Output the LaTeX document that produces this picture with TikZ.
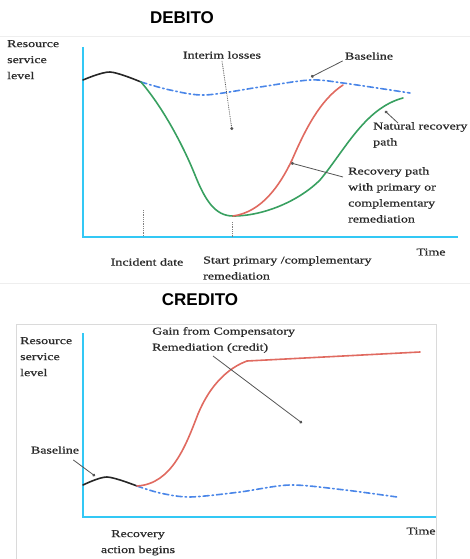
\documentclass[tikz,border=0pt]{standalone}
\usepackage{fontspec}
\setmainfont{Liberation Serif}
\newfontfamily\lblfont[FakeStretch=1.33,FakeBold=0.8]{Liberation Serif}
\newfontfamily\ttlfont{Liberation Sans}
\usetikzlibrary{arrows.meta}
\definecolor{axiscyan}{HTML}{33C8F5}
\definecolor{baseblue}{HTML}{4A86E8}
\definecolor{natgreen}{HTML}{38A060}
\definecolor{remred}{HTML}{E06A60}
\definecolor{txtgray}{HTML}{2A2A2A}
\definecolor{leadgray}{HTML}{555555}
\definecolor{framegray}{HTML}{DADADA}
\definecolor{sepgray}{HTML}{EEEEEE}

\begin{document}
\begin{tikzpicture}[x=1pt,y=-1pt,
  lbl/.style={font=\fontsize{10.5}{16}\selectfont\lblfont, text=txtgray, inner sep=0pt},
  title/.style={font=\fontsize{17}{20}\selectfont\ttlfont\bfseries, inner sep=0pt},
  axis/.style={draw=axiscyan, line width=2.4pt},
  curve/.style={line width=1.6pt, line cap=round},
  basecurve/.style={curve, draw=baseblue, dash pattern=on 6pt off 3pt on 1.5pt off 3pt},
  leader/.style={draw=leadgray, line width=0.8pt, -{Circle[length=3pt]}},
  tickline/.style={draw=gray, densely dotted, line width=0.8pt}
]
\useasboundingbox (0,0) rectangle (470,559);

% ---------------- DEBITO ----------------
\node[title] (t1) at (182,17.5) {DEBITO};
\draw[sepgray, line width=0.8pt] (0,36) -- (470,36);
\draw[sepgray, line width=0.8pt] (0,283) -- (470,283);

\draw[axis] (83,47) -- (83,237) -- (458,237);

% incident / remediation start markers
\draw[tickline] (143,210) -- (143,237);
\draw[tickline] (232,222) -- (232,237);

% pre-incident level
\draw[curve, draw=black!85] plot[smooth] coordinates {(83,80) (110,72) (141,82)};
% baseline
\draw[basecurve] plot[smooth] coordinates {(141,82) (170,90) (205,95) (260,87) (310,80) (343,83) (410,93)};
% natural recovery
\draw[curve, draw=natgreen] (141,82)
  .. controls (165,110) and (185,150) .. (195,175)
  .. controls (205,200) and (215,216) .. (233,216)
  .. controls (265,216) and (300,200) .. (320,180)
  .. controls (345,150) and (365,108) .. (403,98);
% primary / complementary remediation
\draw[curve, draw=remred] (233,216)
  .. controls (262,212) and (280,185) .. (292,160)
  .. controls (305,130) and (320,100) .. (343,85);

\node[lbl, anchor=north west, align=left] (rsl1) at (7,40) {Resource\\service\\level};
\node[lbl] (interim) at (222,55) {Interim losses};
\node[lbl] (base1) at (369,56) {Baseline};
\node[lbl, anchor=north west, align=left] (nat) at (373,122) {Natural recovery\\path};
\node[lbl, anchor=north west, align=left] (rec) at (348,167) {Recovery path\\with primary or\\complementary\\remediation};
\node[lbl] (time1) at (431,252) {Time};
\node[lbl] (incident) at (147,262) {Incident date};
\node[lbl, anchor=north west, align=left] (start) at (203,256) {Start primary /complementary\\remediation};

\coordinate (pInterim) at (232,130);
\coordinate (pBase1) at (311,77);
\coordinate (pNat) at (385,111);
\coordinate (pRec) at (291,163);

\draw[leader, densely dotted] ([yshift=-2pt]interim.south) -- (pInterim);
\draw[leader] ([xshift=-2pt,yshift=-1pt]base1.south west) -- (pBase1);
\draw[leader] ([xshift=25pt,yshift=-1pt]nat.north west) -- (pNat);
\draw[leader] ([xshift=-5pt,yshift=-10pt]rec.north west) -- (pRec);

% ---------------- CREDITO ----------------
\node[title] (t2) at (200,300) {CREDITO};
\draw[framegray, line width=0.6pt] (16,570) -- (16,324) -- (436,324) -- (436,570);

\draw[axis] (83,333) -- (83,517) -- (436,517);

% pre-action level
\draw[curve, draw=black!85] plot[smooth] coordinates {(83,485) (107,477) (137,486)};
% baseline
\draw[basecurve] plot[smooth] coordinates {(137,486) (160,493) (190,497) (240,492) (290,485) (345,490) (397,497)};
% compensatory remediation
\draw[curve, draw=remred] (137,486)
  .. controls (172,484) and (186,445) .. (198,414)
  .. controls (210,385) and (228,368) .. (247,361)
  -- (420,352);

\node[lbl, anchor=north west, align=left] (rsl2) at (20,337) {Resource\\service\\level};
\node[lbl, anchor=north west, align=left] (gain) at (152,327) {Gain from Compensatory\\Remediation (credit)};
\node[lbl] (base2) at (55,450) {Baseline};
\node[lbl, anchor=north, align=center] (action) at (138,530) {Recovery\\action begins};
\node[lbl] (time2) at (421,531) {Time};

\coordinate (pGain) at (302,423);
\coordinate (pBase2) at (95,476);

\draw[leader] ([xshift=61pt,yshift=-3pt]gain.south west) -- (pGain);
\draw[leader] ([xshift=-6pt,yshift=-6pt]base2.south east) -- (pBase2);
\end{tikzpicture}
\end{document}
